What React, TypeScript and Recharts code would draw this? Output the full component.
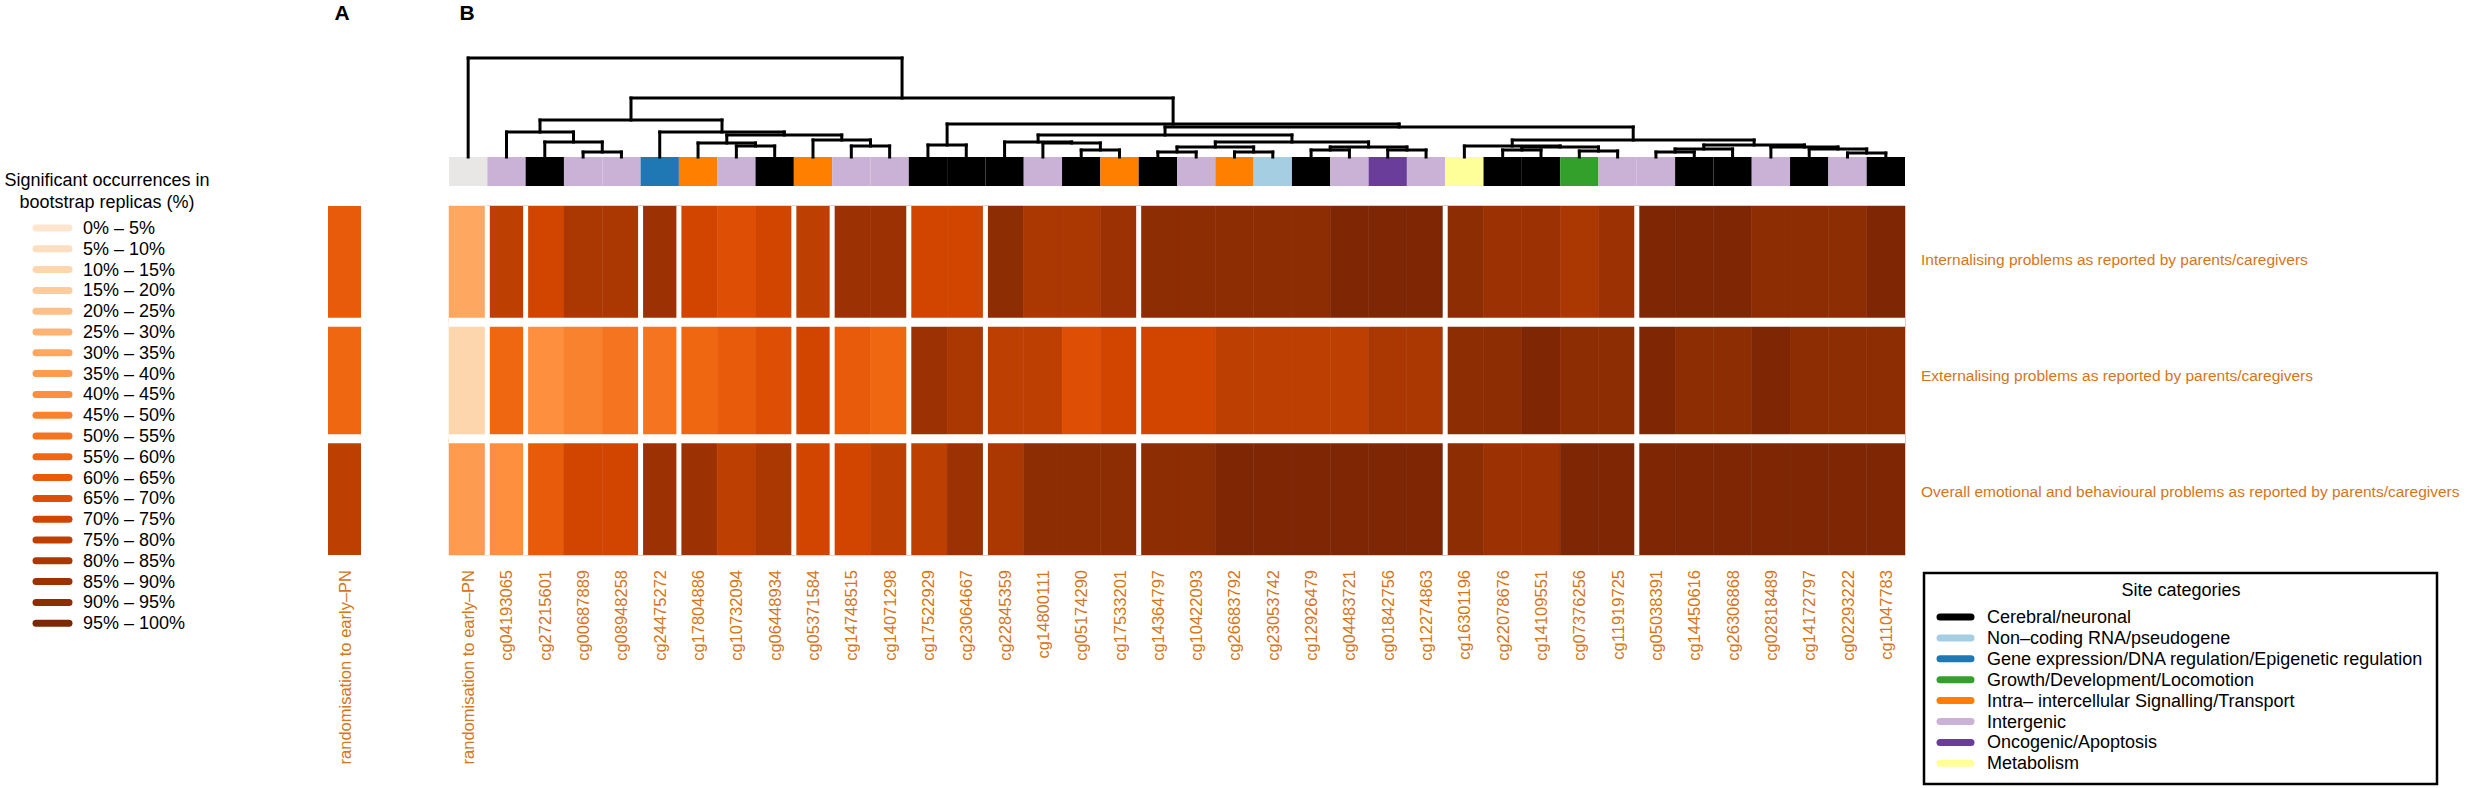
import React from "react";
import { ComposedChart, XAxis, YAxis, ReferenceArea, ReferenceLine, Scatter } from "recharts";

const FONT = '"Liberation Sans", Arial, Helvetica, sans-serif';
const LABEL_COLOR = "#d57520";

// columns of panel B, in dendrogram order
const siteLabels = [
  "randomisation to early\u2013PN", "cg04193065", "cg27215601", "cg00687889", "cg08948258",
  "cg24475272", "cg17804886", "cg10732094", "cg06448934", "cg05371584", "cg14748515",
  "cg14071298", "cg17522929", "cg23064667", "cg22845359", "cg14800111", "cg05174290",
  "cg17533201", "cg14364797", "cg10422093", "cg26683792", "cg23053742", "cg12926479",
  "cg04483721", "cg01842756", "cg12274863", "cg16301196", "cg22078676", "cg14109551",
  "cg07376256", "cg11919725", "cg05038391", "cg14450616", "cg26306868", "cg02818489",
  "cg14172797", "cg02293222", "cg11047783",
];

// site category of each column (index into categoryNames, -1 = exposure column)
const siteCategory = [
  -1, 5, 0, 5, 5, 2, 4, 5, 0, 4, 5, 5, 0, 0, 0, 5, 0, 4, 0, 5,
  4, 1, 0, 5, 6, 5, 7, 0, 0, 3, 5, 5, 0, 0, 5, 0, 5, 0,
];

const categoryNames = [
  "Cerebral/neuronal",
  "Non\u2013coding RNA/pseudogene",
  "Gene expression/DNA regulation/Epigenetic regulation",
  "Growth/Development/Locomotion",
  "Intra\u2013 intercellular Signalling/Transport",
  "Intergenic",
  "Oncogenic/Apoptosis",
  "Metabolism",
];
const categoryColors = ["#000000", "#a6cee3", "#1f78b4", "#33a02c", "#ff7f00", "#cab2d6", "#6a3d9a", "#ffff99"];
const exposureColor = "#e9e6e6";

const rowLabels = [
  "Internalising problems as reported by parents/caregivers",
  "Externalising problems as reported by parents/caregivers",
  "Overall emotional and behavioural problems as reported by parents/caregivers",
];

// % of bootstrap replicas with a significant result
const internalising = [
  32, 77, 72, 82, 82, 87, 72, 67, 72, 77, 87, 87, 72, 72, 92, 82, 82, 87, 92, 92,
  92, 92, 92, 97, 97, 97, 92, 87, 87, 82, 87, 97, 97, 97, 92, 92, 92, 97,
];
const externalising = [
  12, 57, 42, 47, 52, 52, 57, 62, 67, 72, 62, 57, 87, 82, 77, 77, 67, 72, 72, 72,
  77, 77, 77, 77, 82, 82, 92, 92, 97, 92, 92, 97, 92, 92, 97, 92, 92, 92,
];
const overall = [
  37, 42, 62, 72, 72, 87, 87, 77, 82, 72, 72, 77, 77, 87, 82, 92, 92, 92, 92, 92,
  97, 97, 97, 97, 97, 97, 92, 87, 87, 97, 97, 97, 97, 97, 97, 97, 97, 97,
];
const panelA = [62, 57, 77];
const panelALabel = "randomisation to early\u2013PN";

const binLabels = [
  "0% \u2013 5%", "5% \u2013 10%", "10% \u2013 15%", "15% \u2013 20%", "20% \u2013 25%",
  "25% \u2013 30%", "30% \u2013 35%", "35% \u2013 40%", "40% \u2013 45%", "45% \u2013 50%",
  "50% \u2013 55%", "55% \u2013 60%", "60% \u2013 65%", "65% \u2013 70%", "70% \u2013 75%",
  "75% \u2013 80%", "80% \u2013 85%", "85% \u2013 90%", "90% \u2013 95%", "95% \u2013 100%",
];

// cluster boundaries (gap after these columns)
const clusterBreaks = [1, 2, 5, 6, 9, 10, 12, 14, 18, 26, 31];

// hclust-style merges: negative = leaf column, positive = earlier merge; last = height
const dendroMerges: [number, number, number][] = [
  [-4, -5, 5], [-3, 1, 15], [-2, 2, 25], [-8, -9, 11], [-7, 4, 14],
  [-11, -12, 11], [-10, 6, 17], [5, 7, 22], [-6, 8, 25], [3, 9, 37],
  [-13, -14, 12], [-17, -18, 7], [-16, 12, 14], [-15, 13, 15], [-19, -20, 5],
  [-21, -22, 5], [15, 16, 10], [-23, -24, 7], [-25, -26, 7], [18, 19, 10],
  [17, 20, 15], [14, 21, 22], [-28, -29, 7], [-30, -31, 6], [23, 24, 10],
  [-27, 25, 11], [-32, -33, 5], [27, -34, 8], [-37, -38, 4], [-36, 29, 8],
  [-35, 30, 10], [28, 31, 12], [26, 32, 17], [22, 33, 30], [11, 34, 33],
  [10, 35, 59], [-1, 36, 99],
];

const ORANGES = ["#FEE6CE", "#FDD0A2", "#FDAE6B", "#FD8D3C", "#F16913", "#D94801", "#A63603", "#7F2704"];
function ramp(stops: string[], n: number) {
  const rgb = stops.map((s) => [1, 3, 5].map((i) => parseInt(s.slice(i, i + 2), 16)));
  const out: string[] = [];
  for (let k = 0; k < n; k++) {
    const t = (k / (n - 1)) * (stops.length - 1);
    const i = Math.min(Math.floor(t), stops.length - 2);
    const f = t - i;
    const c = rgb[i].map((v, j) => Math.round(v + (rgb[i + 1][j] - v) * f));
    out.push(`rgb(${c[0]},${c[1]},${c[2]})`);
  }
  return out;
}
const palette = ramp(ORANGES, 20);
const colorFor = (v: number) => palette[Math.min(19, Math.floor(v / 5))];

const nCols = siteLabels.length;
const colCenters = siteLabels.map((_, i) => i + 0.5);
const heatRows = [internalising, externalising, overall];
const dummy = colCenters.map((x) => ({ x, y: 0.5 }));

function dendroSegments() {
  const nodes: { x: number; h: number }[] = [];
  const segs: { x: number; y: number }[][] = [];
  const get = (id: number) => (id < 0 ? { x: -id - 0.5, h: 0 } : nodes[id - 1]);
  dendroMerges.forEach(([a, b, h]) => {
    const A = get(a);
    const B = get(b);
    segs.push([{ x: A.x, y: A.h }, { x: A.x, y: h }]);
    segs.push([{ x: B.x, y: B.h }, { x: B.x, y: h }]);
    segs.push([{ x: A.x, y: h }, { x: B.x, y: h }]);
    nodes.push({ x: (A.x + B.x) / 2, h });
  });
  return segs;
}

const W = 2477;
const H = 788;
const PLOT_L = 449;
const PLOT_R = 1905;
const ROW_TOP = 206;
const ROW_BOT = 555;

const ColumnTick = (props: any) => {
  const { x, y, payload, labels } = props;
  const idx = Math.floor(payload.value);
  const ty = y + 7;
  return (
    <text
      x={x}
      y={ty}
      transform={`rotate(-90 ${x} ${ty})`}
      textAnchor="end"
      dominantBaseline="central"
      fontSize={16.5}
      fontFamily={FONT}
      fill={LABEL_COLOR}
    >
      {labels[idx]}
    </text>
  );
};

const RowTick = (props: any) => {
  const { x, y, payload } = props;
  const idx = Math.floor(payload.value);
  return (
    <text x={x + 8} y={y - 5} dominantBaseline="central" fontSize={15.5} fontFamily={FONT} fill={LABEL_COLOR}>
      {rowLabels[idx]}
    </text>
  );
};

const hiddenShape = () => <g />;

export default function App() {
  const segs = dendroSegments();
  return (
    <div style={{ position: "relative", width: W, height: H, background: "#fff", fontFamily: FONT }}>
      <style>{"body{margin:0}"}</style>

      {/* dendrogram + site category bar */}
      <div style={{ position: "absolute", left: 0, top: 0 }}>
        <ComposedChart width={W} height={200} margin={{ top: 58, bottom: 14, left: PLOT_L, right: W - PLOT_R }}>
          <XAxis type="number" dataKey="x" domain={[0, nCols]} hide />
          <YAxis type="number" domain={[-29, 99]} hide />
          <Scatter data={dummy} dataKey="y" shape={hiddenShape} isAnimationActive={false} />
          {siteCategory.map((c, i) => (
            <ReferenceArea
              key={"cat" + i}
              x1={i}
              x2={i + 1}
              y1={-29}
              y2={0}
              fill={c < 0 ? exposureColor : categoryColors[c]}
              fillOpacity={1}
              stroke="none"
              ifOverflow="visible"
            />
          ))}
          {segs.map((s, i) => (
            <ReferenceLine
              key={"seg" + i}
              segment={s}
              stroke="#000"
              strokeWidth={3}
              strokeLinecap="square"
              ifOverflow="visible"
            />
          ))}
        </ComposedChart>
      </div>

      {/* panel B heatmap */}
      <div style={{ position: "absolute", left: 0, top: 0 }}>
        <ComposedChart width={W} height={H} margin={{ top: ROW_TOP, bottom: 3, left: PLOT_L, right: W - PLOT_R - 20 }}>
          <XAxis
            type="number"
            dataKey="x"
            domain={[0, nCols]}
            ticks={colCenters}
            interval={0}
            axisLine={false}
            tickLine={false}
            height={H - ROW_BOT - 3}
            tick={<ColumnTick labels={siteLabels} />}
          />
          <YAxis
            type="number"
            orientation="right"
            domain={[0, 3]}
            reversed
            ticks={[0.5, 1.5, 2.5]}
            interval={0}
            axisLine={false}
            tickLine={false}
            width={20}
            tick={<RowTick />}
          />
          <Scatter data={dummy} dataKey="y" shape={hiddenShape} isAnimationActive={false} />
          {heatRows.map((row, r) =>
            row.map((v, i) => (
              <ReferenceArea
                key={`c${r}-${i}`}
                x1={i}
                x2={i + 1}
                y1={r}
                y2={r + 1}
                fill={colorFor(v)}
                fillOpacity={1}
                stroke={colorFor(v)}
                strokeWidth={0.5}
                ifOverflow="visible"
              />
            ))
          )}
          {clusterBreaks.map((b) => (
            <ReferenceLine key={"gx" + b} x={b} stroke="#fff" strokeWidth={5} ifOverflow="visible" />
          ))}
          {[1, 2].map((b) => (
            <ReferenceLine key={"gy" + b} y={b} stroke="#fff" strokeWidth={9} ifOverflow="visible" />
          ))}
        </ComposedChart>
      </div>

      {/* panel A heatmap */}
      <div style={{ position: "absolute", left: 0, top: 0 }}>
        <ComposedChart width={400} height={H} margin={{ top: ROW_TOP, bottom: 3, left: 328, right: 400 - 361 }}>
          <XAxis
            type="number"
            dataKey="x"
            domain={[0, 1]}
            ticks={[0.5]}
            interval={0}
            axisLine={false}
            tickLine={false}
            height={H - ROW_BOT - 3}
            tick={<ColumnTick labels={[panelALabel]} />}
          />
          <YAxis type="number" domain={[0, 3]} reversed hide />
          <Scatter data={[{ x: 0.5, y: 0.5 }]} dataKey="y" shape={hiddenShape} isAnimationActive={false} />
          {panelA.map((v, r) => (
            <ReferenceArea
              key={"a" + r}
              x1={0}
              x2={1}
              y1={r}
              y2={r + 1}
              fill={colorFor(v)}
              fillOpacity={1}
              stroke="none"
              ifOverflow="visible"
            />
          ))}
          {[1, 2].map((b) => (
            <ReferenceLine key={"ay" + b} y={b} stroke="#fff" strokeWidth={9} ifOverflow="visible" />
          ))}
        </ComposedChart>
      </div>

      {/* panel letters, colour legend, category legend */}
      <svg style={{ position: "absolute", left: 0, top: 0, pointerEvents: "none" }} width={W} height={H}>
        <text x={342} y={20} textAnchor="middle" fontSize={21} fontWeight="bold" fontFamily={FONT}>A</text>
        <text x={467} y={20} textAnchor="middle" fontSize={21} fontWeight="bold" fontFamily={FONT}>B</text>

        <text x={107} y={186} textAnchor="middle" fontSize={18} fontFamily={FONT}>Significant occurrences in</text>
        <text x={107} y={208} textAnchor="middle" fontSize={18} fontFamily={FONT}>bootstrap replicas (%)</text>
        {binLabels.map((t, k) => {
          const y = 228 + k * 20.8;
          return (
            <g key={"bin" + k}>
              <line x1={36} x2={69} y1={y} y2={y} stroke={palette[k]} strokeWidth={7} strokeLinecap="round" />
              <text x={83} y={y} dominantBaseline="central" fontSize={18} fontFamily={FONT}>{t}</text>
            </g>
          );
        })}

        <rect x={1924} y={573} width={513} height={211} fill="none" stroke="#000" strokeWidth={2.5} />
        <text x={2181} y={590} textAnchor="middle" dominantBaseline="central" fontSize={18} fontFamily={FONT}>
          Site categories
        </text>
        {categoryNames.map((t, k) => {
          const y = 617 + k * 20.9;
          return (
            <g key={"catl" + k}>
              <line x1={1940} x2={1971} y1={y} y2={y} stroke={categoryColors[k]} strokeWidth={7} strokeLinecap="round" />
              <text x={1987} y={y} dominantBaseline="central" fontSize={18} fontFamily={FONT}>{t}</text>
            </g>
          );
        })}
      </svg>
    </div>
  );
}
